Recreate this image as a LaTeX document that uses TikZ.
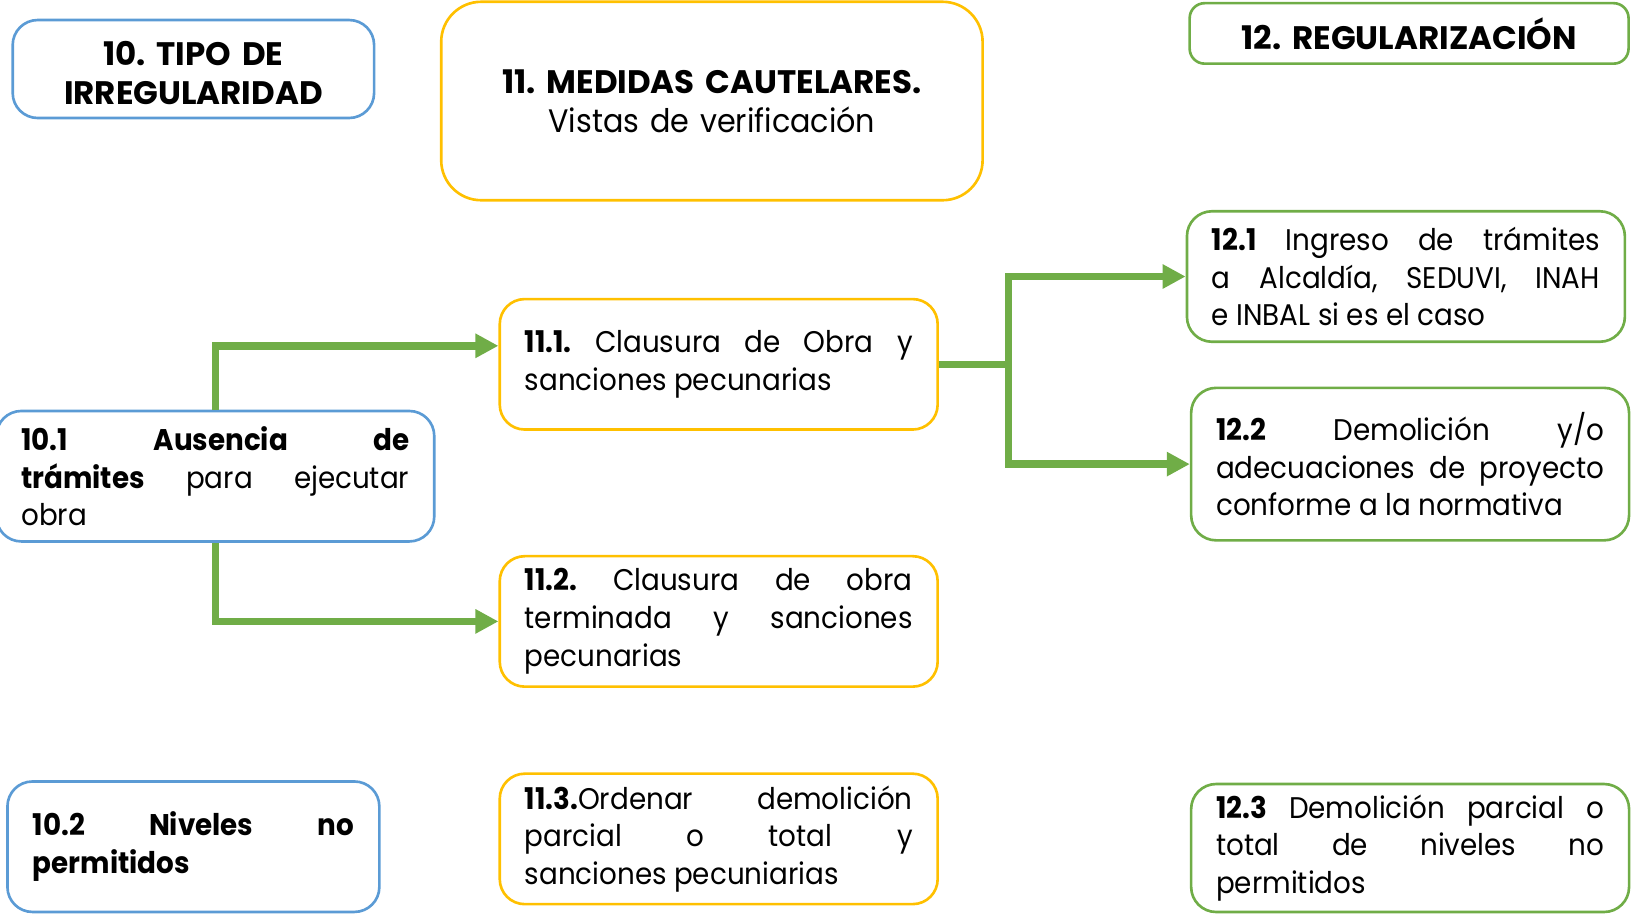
\documentclass[tikz,border=0pt]{standalone}
\usepackage{fontspec}
\setmainfont{Poppins}[FakeStretch=0.93]
\newfontfamily\titlefont{Poppins}
\usetikzlibrary{arrows.meta}
\definecolor{azul}{HTML}{5B9BD5}
\definecolor{oro}{HTML}{FFC000}
\definecolor{verde}{HTML}{70AD47}
\tikzset{
  caja/.style={draw, fill=white, line width=1.5pt, rounded corners=0.5cm,
    inner xsep=0.5cm, inner ysep=0pt, text width=7.76cm, minimum height=2.61cm,
    align=justify, font=\fontsize{17}{21.5}\selectfont},
  titulo/.style={caja, align=center, font=\fontsize{18.5}{22}\selectfont\titlefont\bfseries},
  flecha/.style={draw=verde, line width=4.3pt, -{Triangle[length=0.46cm, width=0.46cm]}},
}
\frenchspacing
\begin{document}
\begin{tikzpicture}[x=0.02cm, y=-0.02cm]
  \useasboundingbox (0,0) rectangle (1639,914);
  % encabezados
  \node[titulo, draw=azul, text width=6.23cm, minimum height=1.96cm] (I) at (193.4,69) {\rule{0pt}{18pt}10. TIPO DE\\ IRREGULARIDAD};
  \node[titulo, draw=oro, text width=9.83cm, minimum height=3.97cm, rounded corners=0.8cm] (M) at (711.9,101) {11. MEDIDAS CAUTELARES.\\ \normalfont\fontsize{18.5}{22}\selectfont Vistas de verificación};
  \node[titulo, draw=verde, text width=7.78cm, minimum height=1.21cm, rounded corners=0.3cm] (R) at (1409.1,33.4) {12. REGULARIZACIÓN};
  % irregularidades
  \node[caja, draw=azul] (I1) at (215.3,476.2) {\textbf{10.1 Ausencia de}\linebreak \textbf{trámites} para ejecutar\linebreak obra};
  \node[caja, draw=azul, text width=6.42cm, inner xsep=0.51cm] (I2) at (193.4,846.7) {\textbf{10.2 Niveles no\linebreak permitidos}};
  % medidas
  \node[caja, draw=oro] (M1) at (718.7,364.3) {\textbf{11.1.} Clausura de Obra y\linebreak sanciones pecunarias};
  \node[caja, draw=oro] (M2) at (718.7,621.4) {\textbf{11.2.} Clausura de obra\linebreak terminada y sanciones\linebreak pecunarias};
  \node[caja, draw=oro] (M3) at (718.7,838.9) {\textbf{11.3.}Ordenar demolición\linebreak parcial o total y\linebreak sanciones pecuniarias};
  % regularizacion
  \node[caja, draw=verde] (R1) at (1405.9,276.5) {\textbf{12.1} Ingreso de trámites\linebreak a Alcaldía, SEDUVI, INAH\linebreak e INBAL si es el caso};
  \node[caja, draw=verde, minimum height=3.05cm] (R2) at (1410.1,464.1) {\textbf{12.2} Demolición y/o\linebreak adecuaciones de proyecto\linebreak conforme a la normativa};
  \node[caja, draw=verde, minimum height=2.56cm] (R3) at (1410.1,848) {\textbf{12.3} Demolición parcial o\linebreak total de niveles no\linebreak permitidos};
  % flechas
  \coordinate (J) at ([xshift=1.39cm]M1.east);
  \draw[flecha] (I1.north) |- ([yshift=0.37cm]M1.west);
  \draw[flecha] (I1.south) |- (M2.west);
  \draw[draw=verde, line width=4.3pt] (M1.east) -- (J);
  \draw[flecha] (J) |- (R1.west);
  \draw[flecha] (J) |- (R2.west);
\end{tikzpicture}
\end{document}
